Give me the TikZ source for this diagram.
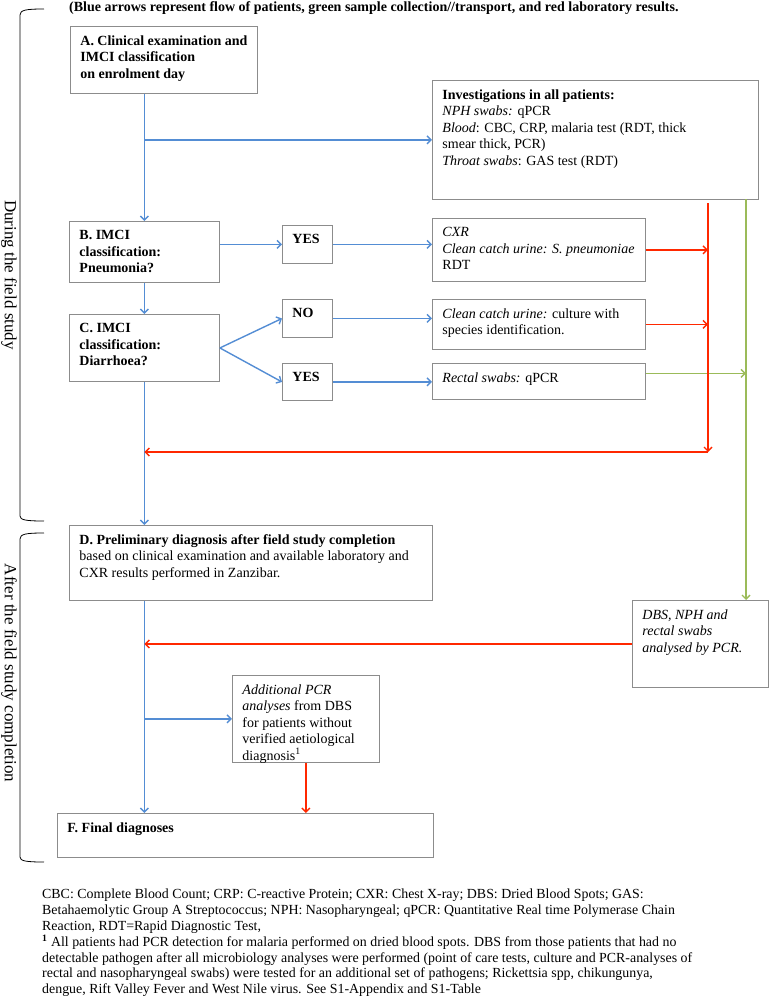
\documentclass[tikz,border=0pt]{standalone}
\usepackage{fontspec}
\setmainfont{Liberation Serif}
\usetikzlibrary{arrows.meta}
\definecolor{flowBlue}{RGB}{84,141,212}
\definecolor{labRed}{RGB}{255,40,0}
\definecolor{sampleGreen}{RGB}{155,187,89}
\definecolor{boxGray}{RGB}{140,140,140}
\newcommand{\boxtext}[3]{\parbox[t][#2pt][t]{#1pt}{\raggedright #3}}

\begin{document}
\begin{tikzpicture}[x=1pt, y=-1pt,
    >={Straight Barb[length=4pt,width=8pt]},
    stage/.style={draw=boxGray, line width=0.9pt, anchor=north west, inner xsep=10pt, inner ysep=9pt, font=\fontsize{14}{16.5}\selectfont},
    blueflow/.style={->, line width=1.4pt, flowBlue},
    redflow/.style={->, line width=1.4pt, labRed},
    greenflow/.style={->, line width=1.4pt, sampleGreen},
    bracket/.style={line width=0.8pt},
    phase/.style={rotate=-90, font=\fontsize{17}{20}\selectfont}]
                \useasboundingbox (0,0) rectangle (769,996);
                \node[anchor=west, inner sep=0, font=\fontsize{14}{16}\selectfont\bfseries] (title) at (69,8) {(Blue arrows represent flow of patients, green sample collection//transport, and red laboratory results.};
                % phases
                \draw[bracket] (44,9) .. controls (26,9) and (20,10) .. (20,15) -- (20,516) .. controls (20,520) and (26,521) .. (44,521);
                \draw[bracket] (44,533) .. controls (26,533) and (20,534) .. (20,539) -- (20,857) .. controls (20,861) and (26,862) .. (44,862);
                \node[phase] (during) at (9,275) {During the field study};
                \node[phase] (after) at (9,673) {After the field study completion};
                % field study
                \node[stage] (A) at (70,26) {\boxtext{167}{49}{\bfseries A. Clinical examination and\\IMCI classification\\on enrolment day}};
                \node[stage] (inv) at (432,80) {\boxtext{306}{101}{\textbf{Investigations in all patients:}\\\textit{NPH swabs:} qPCR\\\textit{Blood}: CBC, CRP, malaria test (RDT, thick\\smear thick, PCR)\\\textit{Throat swabs}: GAS test (RDT)}};
                \node[stage] (B) at (69,221) {\boxtext{130}{43}{\bfseries B. IMCI\\classification:\\Pneumonia?}};
                \node[stage] (yesB) at (282,225) {\boxtext{30}{20}{\bfseries YES}};
                \node[stage] (cxr) at (432,218) {\boxtext{193}{45}{\textit{CXR}\\\textit{Clean catch urine: S. pneumoniae}\\RDT}};
                \node[stage] (C) at (69,314) {\boxtext{130}{49}{\bfseries C. IMCI\\classification:\\Diarrhoea?}};
                \node[stage] (no) at (282,299) {\boxtext{30}{20}{\bfseries NO}};
                \node[stage] (urine) at (432,299) {\boxtext{193}{32}{\textit{Clean catch urine:} culture with\\species identification.}};
                \node[stage] (yesC) at (282,363) {\boxtext{30}{19}{\bfseries YES}};
                \node[stage] (rectal) at (432,363) {\boxtext{193}{18}{\textit{Rectal swabs:} qPCR}};
                % after the field study
                \node[stage] (D) at (69,525) {\boxtext{343}{57}{\textbf{D. Preliminary diagnosis after field study completion}\\based on clinical examination and available laboratory and\\CXR results performed in Zanzibar.}};
                \node[stage] (dbs) at (632,600) {\boxtext{116}{69}{\itshape DBS, NPH and\\rectal swabs\\analysed by PCR.}};
                \node[stage] (pcr) at (232,675) {\boxtext{127}{69}{\textit{Additional PCR\\analyses} from DBS\\for patients without\\verified aetiological\\diagnosis\textsuperscript{1}}};
                \node[stage] (F) at (57,813) {\boxtext{356}{26}{\bfseries F. Final diagnoses}};
                \coordinate (redTop) at (708,203);
                \coordinate (redBot) at (708,452);
                \coordinate (greenTop) at (746,199);
                % patients
                \draw[blueflow] (B.north |- A.south) -- (B.north);
                \draw[blueflow] (B.north |- inv.west) -- (inv.west);
                \draw[blueflow] (B.east |- yesB.west) -- (yesB.west);
                \draw[blueflow] (yesB.east) -- (yesB.east -| cxr.west);
                \draw[blueflow] (B.south) -- (C.north);
                \draw[blueflow] (C.east) -- (no.west);
                \draw[blueflow] (C.east) -- (yesC.west);
                \draw[blueflow] (no.east) -- (no.east -| urine.west);
                \draw[blueflow] (yesC.east) -- (yesC.east -| rectal.west);
                \draw[blueflow] (C.south) -- (C.south |- D.north);
                \draw[blueflow] (C.south |- D.south) -- (C.south |- F.north);
                \draw[blueflow] (C.south |- pcr.west) -- (pcr.west);
                % samples
                \draw[greenflow] ([yshift=8pt]rectal.east) -- ([yshift=8pt]rectal.east -| greenTop);
                \draw[greenflow] (greenTop) -- (greenTop |- dbs.north);
                % results
                \draw[redflow] (cxr.east) -- (cxr.east -| redTop);
                \draw[redflow] (urine.east) -- (urine.east -| redTop);
                \draw[redflow] (redTop) -- (redBot);
                \draw[redflow] (redBot) -- (redBot -| C.south);
                \draw[redflow] (dbs.west) -- (dbs.west -| C.south);
                \draw[redflow] (pcr.south) -- (pcr.south |- F.north);
                \node[anchor=north west, align=left, inner sep=0, font=\fontsize{13.9}{15.8}\selectfont] (notes) at (42,889) {CBC: Complete Blood Count; CRP: C-reactive Protein; CXR: Chest X-ray; DBS: Dried Blood Spots; GAS:\\Betahaemolytic Group A Streptococcus; NPH: Nasopharyngeal; qPCR: Quantitative Real time Polymerase Chain\\Reaction, RDT=Rapid Diagnostic Test,\\\textsuperscript{\textbf{1}} All patients had PCR detection for malaria performed on dried blood spots. DBS from those patients that had no\\detectable pathogen after all microbiology analyses were performed (point of care tests, culture and PCR-analyses of\\rectal and nasopharyngeal swabs) were tested for an additional set of pathogens; Rickettsia spp, chikungunya,\\dengue, Rift Valley Fever and West Nile virus. See S1-Appendix and S1-Table};
            \end{tikzpicture}
\end{document}
